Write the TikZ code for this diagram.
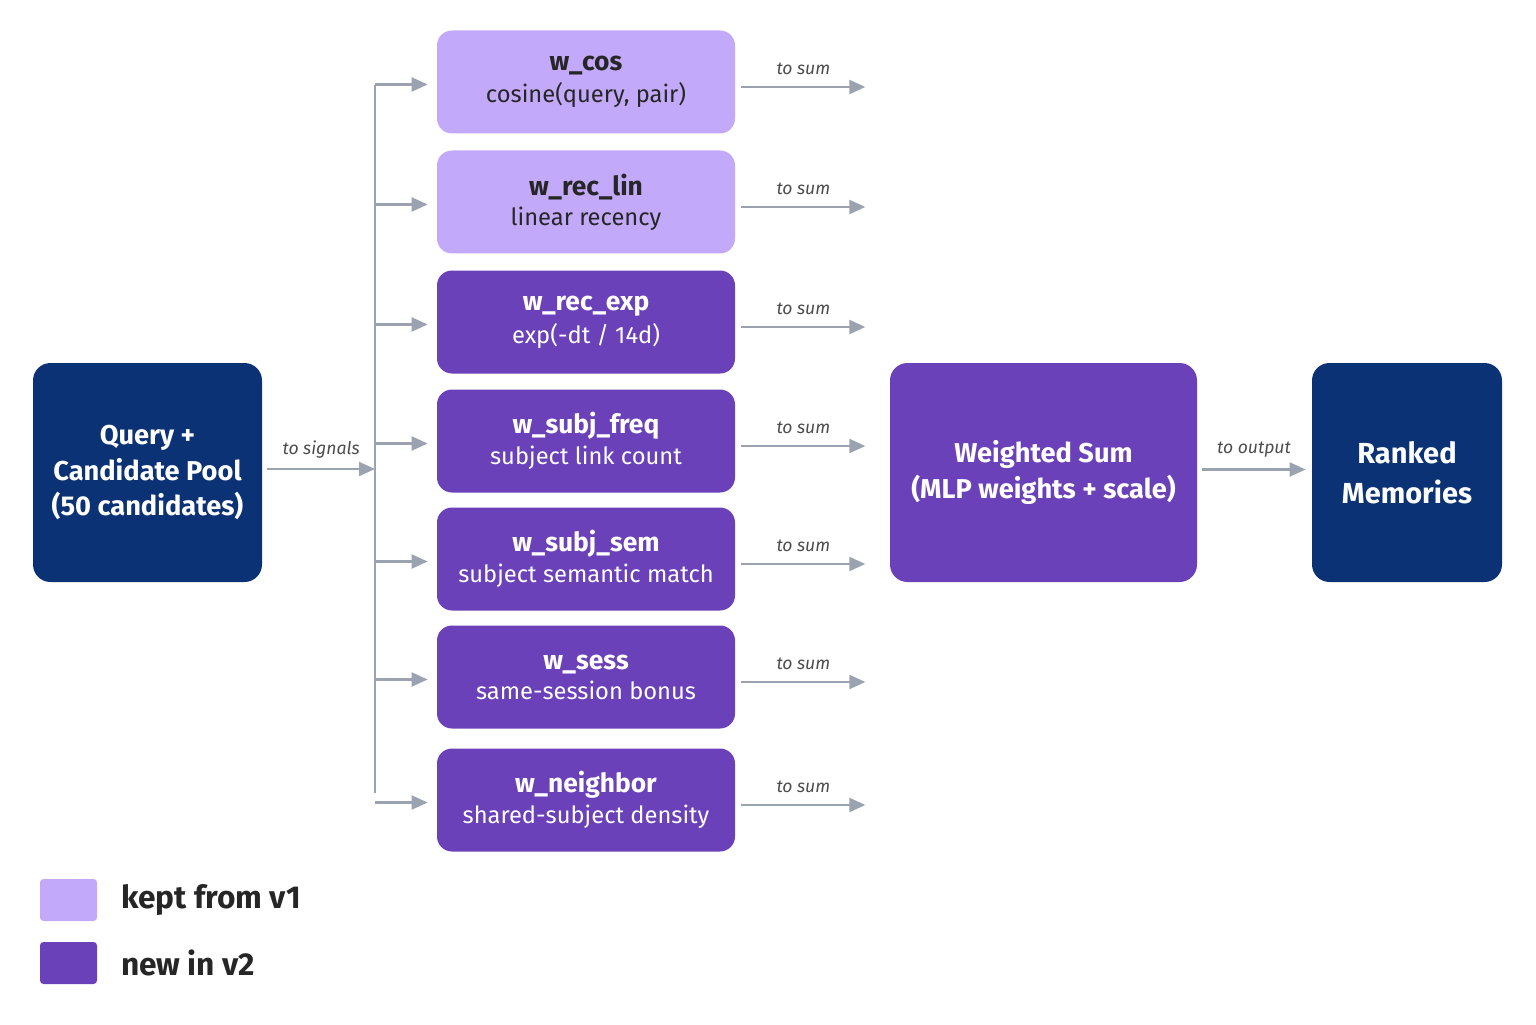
\documentclass[tikz,border=0pt]{standalone}
\usepackage{fontspec}
\setmainfont{Fira Sans}
\usetikzlibrary{positioning,arrows.meta}
\definecolor{navy}{HTML}{0B3275}
\definecolor{keptc}{HTML}{C3A9FA}
\definecolor{newc}{HTML}{6A41B9}
\definecolor{arrc}{HTML}{9AA3AF}
\tikzset{blk/.style={rounded corners=0.3cm,minimum width=5.96cm,minimum height=2.06cm,align=center,inner sep=0pt},
  kept/.style={blk,fill=keptc,text=black!85},
  newer/.style={blk,fill=newc,text=white},
  big/.style={rounded corners=0.35cm,align=center,text=white,font=\fontsize{15.5}{20}\selectfont\bfseries,inner sep=0pt},
  lab/.style={font=\fontsize{10}{12}\selectfont\itshape,text=black!70},
  arr/.style={-{Triangle[length=0.32cm,width=0.28cm]},arrc,line width=1.2pt}}
\newcommand{\tl}[2]{{\fontsize{15}{18}\selectfont\bfseries #1}\\[3pt]{\fontsize{13.5}{16}\selectfont #2}}
\begin{document}
\begin{tikzpicture}
\useasboundingbox (0,0) rectangle (30.72,20.48);
\node[big,fill=navy,minimum width=4.58cm,minimum height=4.38cm] (query) at (2.95,11.03) {Query +\\Candidate Pool\\(50 candidates)};
\node[kept] (cos) at (11.72,18.84) {\tl{w\_cos}{cosine(query, pair)}};
\node[kept] (lin) at (11.72,16.44) {\tl{w\_rec\_lin}{linear recency}};
\node[newer] (exp) at (11.72,14.04) {\tl{w\_rec\_exp}{exp(-dt / 14d)}};
\node[newer] (freq) at (11.72,11.66) {\tl{w\_subj\_freq}{subject link count}};
\node[newer] (sem) at (11.72,9.30) {\tl{w\_subj\_sem}{subject semantic match}};
\node[newer] (sess) at (11.72,6.94) {\tl{w\_sess}{same-session bonus}};
\node[newer] (nb) at (11.72,4.48) {\tl{w\_neighbor}{shared-subject density}};
\node[big,fill=newc,minimum width=6.14cm,minimum height=4.38cm] (sum) at (20.87,11.03) {Weighted Sum\\(MLP weights + scale)};
\node[big,fill=navy,minimum width=3.8cm,minimum height=4.38cm,font=\fontsize{16.5}{23}\selectfont\bfseries] (ranked) at (28.14,11.03) {Ranked\\Memories};

% fan out
\coordinate (trunk) at (7.5,11.1);
\coordinate (ttop) at (7.5,18.78);
\coordinate (tbot) at (7.5,4.62);
\draw[arr] (query.east |- trunk) ++(0.1,0) -- node[lab,above=2pt]{to signals} (trunk);
\draw[arrc,line width=1.2pt] (ttop) -- (tbot);
\foreach \b in {cos,lin,exp,freq,sem,sess,nb}{
  \draw[arr] (ttop |- \b.west) ++(0,-0.05) -- ([xshift=-0.18cm,yshift=-0.05cm]\b.west);
  \coordinate (\b-end) at ([xshift=2.6cm,yshift=-0.1cm]\b.east);
  \draw[arr] ([xshift=0.12cm,yshift=-0.1cm]\b.east) -- node[lab,above=3pt]{to sum} (\b-end);
}
\draw[arr] ([xshift=0.1cm,yshift=0.06cm]sum.east) -- node[lab,above=3pt]{to output} ([xshift=-0.12cm,yshift=0.06cm]ranked.west);

% legend
\node[fill=keptc,rounded corners=2pt,minimum width=1.14cm,minimum height=0.84cm,inner sep=0pt] (k1) at (1.37,2.48) {};
\node[fill=newc,rounded corners=2pt,minimum width=1.14cm,minimum height=0.84cm,inner sep=0pt] (k2) at (1.37,1.22) {};
\node[right=0.35cm of k1,font=\fontsize{18}{20}\selectfont\bfseries,text=black!85] {kept from v1};
\node[right=0.35cm of k2,font=\fontsize{18}{20}\selectfont\bfseries,text=black!85] {new in v2};
\end{tikzpicture}
\end{document}
